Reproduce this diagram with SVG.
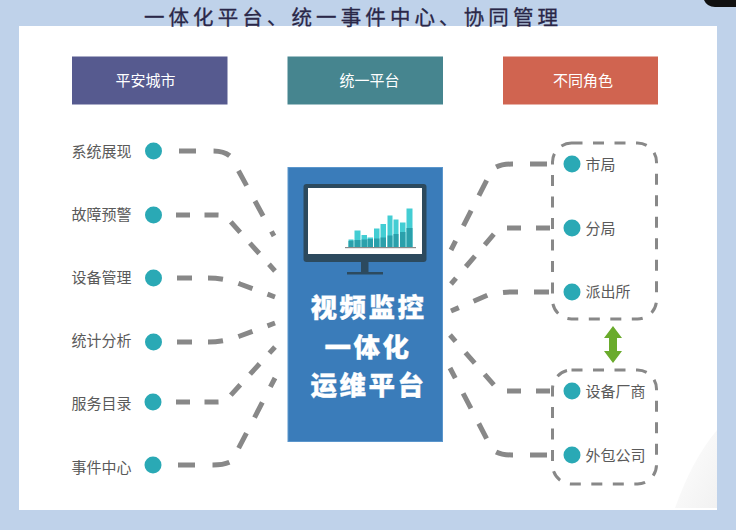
<svg xmlns="http://www.w3.org/2000/svg" width="736" height="530" viewBox="0 0 736 530">
<style>
text{font-family:"Noto Sans CJK SC","Noto Sans",sans-serif}
.lab{font-size:15px;fill:#5a5a5a;dominant-baseline:central}
.hd{font-size:15px;fill:#fff;text-anchor:middle;dominant-baseline:central}
.big{font-size:26.500px;font-weight:900;fill:#fff;stroke:#fff;stroke-width:.3;text-anchor:middle;letter-spacing:2.500px;dominant-baseline:central}
.dot{fill:#2aa9b5}
.c{fill:none;stroke:#888;stroke-width:5}
.grp{fill:none;stroke:#888;stroke-width:3;stroke-dasharray:11 10.500}
.b1{fill:#43cdd3}
.b2{fill:#2aa0ab}
</style>
<defs>
<linearGradient id="wedge" x1="1" y1="1" x2="0" y2="0"><stop offset="0" stop-color="#f1f1f1"/><stop offset="1" stop-color="#ffffff"/></linearGradient>
</defs>
<rect width="736" height="530" fill="#bfd2ea"/>
<path d="M704 0H736V7H715Q707 7 704 0Z" fill="#111"/>
<rect x="19" y="26" width="698" height="484" fill="#fff"/>
<path d="M717 430V508H675Q692 460 717 430Z" fill="url(#wedge)"/>
<text x="353" y="15.500" font-size="20.500" fill="#2a2748" stroke="#2a2748" stroke-width=".3" text-anchor="middle" dominant-baseline="central" letter-spacing="4.100">一体化平台、统一事件中心、协同管理</text>

<g id="header-city"><rect x="72" y="56.500" width="155.500" height="48" fill="#565a8f"/><text class="hd" x="145.500" y="79">平安城市</text></g>
<g id="header-platform"><rect x="287.500" y="56.500" width="155.500" height="48" fill="#46858f"/><text class="hd" x="369.500" y="79">统一平台</text></g>
<g id="header-roles"><rect x="503" y="56.500" width="155" height="48" fill="#d06450"/><text class="hd" x="583" y="79">不同角色</text></g>

<g id="connectors">
<path class="c" stroke-dasharray="17 17.500" d="M179 151H213Q225 151 231 157L274 236"/>
<path class="c" stroke-dasharray="14 14.500" d="M176 215H218Q225 215 230 221L275 271"/>
<path class="c" stroke-dasharray="15 16" d="M177 278H208Q225 278 240 284L275 297"/>
<path class="c" stroke-dasharray="15 16" d="M177 342H208Q225 342 240 336L275 323"/>
<path class="c" stroke-dasharray="14 14.500" d="M176 402H218Q225 402 230 396L275 347"/>
<path class="c" stroke-dasharray="17 17.500" d="M178 465H213Q225 465 232 461L275 378"/>
<path class="c" stroke-dasharray="17 17" d="M547 164H512Q498 164 492 170L451 250"/>
<path class="c" stroke-dasharray="14 15" d="M550 228H507Q498 228 494 234L451 284"/>
<path class="c" stroke-dasharray="15 16" d="M549 292H512Q500 292 488 295L451 311"/>
<path class="c" stroke-dasharray="14 15" d="M550 391H507Q498 391 494 385L450 335"/>
<path class="c" stroke-dasharray="17 17" d="M547 455H512Q498 455 492 449L450 368"/>
<path d="M613 326L622 338H617V351H622L613 363L604 351H609V338H604Z" fill="#6aab2c"/>
</g>

<g id="node-platform">
<rect x="288" y="167.500" width="154.500" height="274" fill="#3a7cba" stroke="#5b96cc"/>
<rect x="303.500" y="184" width="123" height="78" rx="3" fill="#2c4a5e"/>
<rect x="308" y="188" width="114" height="66" fill="#fff"/>
<rect x="361" y="262" width="7.500" height="10" fill="#2c4a5e"/>
<rect x="347" y="272" width="36" height="2.500" fill="#2c4a5e"/>
<g class="b1">
<rect x="348.500" y="239.500" width="5" height="8"/><rect x="354.500" y="230.500" width="6" height="17"/><rect x="361.500" y="235" width="5.500" height="12.500"/><rect x="367.500" y="237.500" width="5.500" height="10"/><rect x="374" y="228.500" width="5.500" height="19"/><rect x="380.500" y="224" width="5.500" height="23.500"/><rect x="387.500" y="215.500" width="5" height="32"/><rect x="393.500" y="219.500" width="5" height="28"/><rect x="400" y="222.500" width="5.500" height="25"/><rect x="406.500" y="208.500" width="6" height="39"/>
</g>
<path class="b2" d="M348.500 247.500V241L353.500 240.500V247.500ZM354.500 247.500V240H360.500V247.500ZM361.500 247.500V239.500H367V247.500ZM367.500 247.500V239H373V247.500ZM374 247.500V238.500H379.500V247.500ZM380.500 247.500V237.500H386V247.500ZM387.500 247.500V235.500H392.500V247.500ZM393.500 247.500V234H398.500V247.500ZM400 247.500V232H405.500V247.500ZM406.500 247.500V228H412.500V247.500Z"/>
<rect x="345" y="247" width="71" height="1.200" fill="#8a8a8a"/>
<text class="big" x="368.500" y="305.500">视频监控</text>
<text class="big" x="368" y="345.500">一体化</text>
<text class="big" x="368.500" y="383.500">运维平台</text>
</g>

<g id="node-left-1"><text class="lab" x="71.500" y="150">系统展现</text><circle class="dot" cx="153.500" cy="151" r="8.500"/></g>
<g id="node-left-2"><text class="lab" x="71.500" y="213">故障预警</text><circle class="dot" cx="153.500" cy="215" r="8.500"/></g>
<g id="node-left-3"><text class="lab" x="71.500" y="276">设备管理</text><circle class="dot" cx="153.500" cy="278" r="8.500"/></g>
<g id="node-left-4"><text class="lab" x="71.500" y="339">统计分析</text><circle class="dot" cx="153.500" cy="342" r="8.500"/></g>
<g id="node-left-5"><text class="lab" x="71.500" y="402">服务目录</text><circle class="dot" cx="153" cy="402" r="8.500"/></g>
<g id="node-left-6"><text class="lab" x="71.500" y="466">事件中心</text><circle class="dot" cx="153" cy="465" r="8.500"/></g>

<g id="group-top"><rect class="grp" x="552.500" y="143" width="104" height="176" rx="19"/></g>
<g id="group-bottom"><rect class="grp" x="552.500" y="370" width="104" height="114" rx="19"/></g>

<g id="node-right-1"><circle class="dot" cx="572" cy="164" r="8.500"/><text class="lab" x="585.500" y="163">市局</text></g>
<g id="node-right-2"><circle class="dot" cx="572" cy="228" r="8.500"/><text class="lab" x="585.500" y="227">分局</text></g>
<g id="node-right-3"><circle class="dot" cx="572" cy="292" r="8.500"/><text class="lab" x="585.500" y="290">派出所</text></g>
<g id="node-right-4"><circle class="dot" cx="572" cy="391" r="8.500"/><text class="lab" x="585.500" y="390">设备厂商</text></g>
<g id="node-right-5"><circle class="dot" cx="572" cy="455" r="8.500"/><text class="lab" x="585.500" y="454">外包公司</text></g>
</svg>
